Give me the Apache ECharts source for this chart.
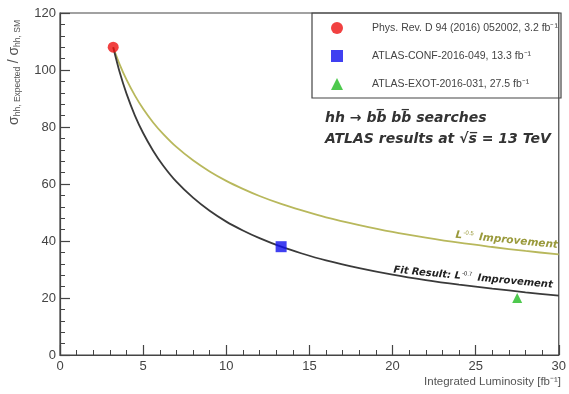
<!DOCTYPE html>
<html><head><meta charset="utf-8">
<script src="https://cdn.jsdelivr.net/npm/echarts@6/dist/echarts.min.js"></script>
<style>html,body{margin:0;padding:0;background:#fff}#c{width:569px;height:394px}</style>
</head><body><div id="c"></div>
<script>
const xTicks = [0, 5, 10, 15, 20, 25, 30];
const yTicks = [0, 20, 40, 60, 80, 100, 120];
const curveX = [3.2, 3.6, 4.0, 4.5, 5.0, 5.6, 6.2, 7.0, 8.0, 9.0, 10, 11, 12, 13.3, 14.5, 16, 18, 20, 22, 24, 26, 28, 30];
const improvementY = [108, 101.8, 96.6, 91.1, 86.4, 81.6, 77.6, 73.0, 68.3, 64.4, 61.1, 58.3, 55.8, 53.0, 50.8, 48.3, 45.6, 43.2, 41.2, 39.4, 37.9, 36.5, 35.3];
const fitY = [108, 99, 91.7, 84.1, 77.9, 71.7, 66.5, 60.8, 55.2, 50.6, 46.8, 43.7, 41.0, 38.0, 35.7, 33.2, 30.5, 28.2, 26.3, 24.7, 23.3, 22.0, 20.8];
const pointNames = ['Phys. Rev. D 94 (2016) 052002, 3.2 fb⁻¹', 'ATLAS-CONF-2016-049, 13.3 fb⁻¹', 'ATLAS-EXOT-2016-031, 27.5 fb⁻¹'];
const pointX = [3.2, 13.3, 27.5];
const pointY = [108, 38, 20];

const chart = echarts.init(document.getElementById('c'), null, {renderer: 'canvas'});
const font = 'Liberation Sans, Arial, sans-serif';
const wide = 'DejaVu Sans, sans-serif';
const axisCommon = {
  axisLine: {show: true, lineStyle: {color: '#444', width: 1.2}},
  axisTick: {show: true, inside: true, length: 10, lineStyle: {color: '#444', width: 1.2}},
  minorTick: {show: true, splitNumber: 5, length: 5, lineStyle: {color: '#444', width: 1}},
  splitLine: {show: false},
  axisLabel: {color: '#444', fontSize: 13, fontFamily: font}
};
const pts = (i) => [[pointX[i], pointY[i]]];
chart.setOption({
  animation: false,
  backgroundColor: '#fff',
  grid: {left: 60, right: 8, top: 13, bottom: 39, show: true, borderColor: '#444', borderWidth: 1.2},
  xAxis: Object.assign({type: 'value', min: xTicks[0], max: xTicks[xTicks.length - 1], interval: 5}, axisCommon,
    {axisLabel: Object.assign({}, axisCommon.axisLabel, {margin: 5})}),
  yAxis: Object.assign({type: 'value', min: yTicks[0], max: yTicks[yTicks.length - 1], interval: 20}, axisCommon,
    {axisLabel: Object.assign({}, axisCommon.axisLabel, {margin: 4})}),
  legend: {
    orient: 'vertical', left: 312, top: 13,
    padding: [9, 10, 9, 19], itemGap: 16, itemWidth: 12, itemHeight: 12,
    data: pointNames,
    textStyle: {fontSize: 10.5, color: '#444', fontFamily: font, padding: [0, 0, 0, 24]}
  },
  series: [
    {type: 'line', name: 'imp', data: curveX.map((x, i) => [x, improvementY[i]]), smooth: 0.3, showSymbol: false,
     lineStyle: {color: '#b8b85c', width: 1.8}, z: 2},
    {type: 'line', name: 'fit', data: curveX.map((x, i) => [x, fitY[i]]), smooth: 0.3, showSymbol: false,
     lineStyle: {color: '#3a3a3a', width: 1.8}, z: 2},
    {type: 'scatter', name: pointNames[0], data: pts(0), symbol: 'circle', symbolSize: 11, itemStyle: {color: '#ee1111'}, z: 5},
    {type: 'scatter', name: pointNames[1], data: pts(1), symbol: 'rect', symbolSize: 11, itemStyle: {color: '#1010ee'}, z: 5},
    {type: 'scatter', name: pointNames[2], data: pts(2), symbol: 'triangle', symbolSize: 10, itemStyle: {color: '#22bb22'}, z: 5}
  ],
  graphic: [
    {type: 'rect', shape: {x: 312, y: 13, width: 249, height: 85}, style: {fill: 'none', stroke: '#444', lineWidth: 1.2}, z: 10},
    {type: 'text', left: 7, top: 20, rotation: Math.PI / 2, originX: 0, originY: 0,
     style: {text: '{s|σ}{sub|hh, Expected} {s|/ σ}{sub|hh, SM}', x: 0, y: 0,
       rich: {s: {fontSize: 14, fill: '#555', fontFamily: font}, sub: {fontSize: 8.5, fill: '#555', fontFamily: font, verticalAlign: 'bottom', padding: [7, 0, 0, 0]}}}},
    {type: 'text', right: 8, top: 376,
     style: {text: 'Integrated Luminosity [fb⁻¹]', fontSize: 11.5, fill: '#555', fontFamily: font}},
    {type: 'text', left: 325, top: 108,
     style: {text: 'hh → bb̅ bb̅ searches\nATLAS results at √s̅ = 13 TeV', fontSize: 14, fontWeight: 'bold', fontStyle: 'italic',
       fill: '#333', fontFamily: wide, lineHeight: 21}},
    {type: 'text', x: 456, y: 229, rotation: -0.1,
     style: {text: '{l|L}{sup|-0.5}{t| Improvement}',
       rich: {l: {fontSize: 10.5, fontStyle: 'italic', fill: '#9a9a3c', fontFamily: wide, fontWeight: 'bold'},
              sup: {fontSize: 6, fill: '#9a9a3c', fontFamily: font, verticalAlign: 'top', padding: [0, 2, 6, 1]},
              t: {fontSize: 10.5, fontStyle: 'italic', fill: '#9a9a3c', fontFamily: wide, fontWeight: 'bold'}}}},
    {type: 'text', x: 394, y: 264, rotation: -0.095,
     style: {text: '{l|Fit Result: L}{sup|-0.7}{t| Improvement}',
       rich: {l: {fontSize: 10, fontStyle: 'italic', fill: '#222', fontFamily: wide, fontWeight: 'bold'},
              sup: {fontSize: 6, fill: '#222', fontFamily: font, verticalAlign: 'top', padding: [0, 2, 6, 1]},
              t: {fontSize: 10, fontStyle: 'italic', fill: '#222', fontFamily: wide, fontWeight: 'bold'}}}}
  ]
});
</script></body></html>
